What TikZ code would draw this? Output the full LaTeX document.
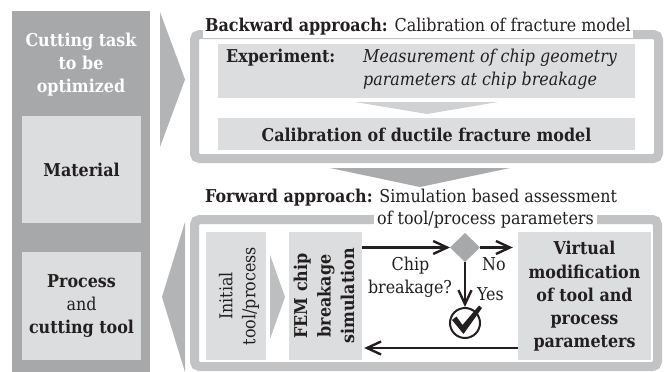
\documentclass[tikz,border=0pt]{standalone}
\usepackage{fontspec}
\setmainfont{DejaVu Serif Condensed}
\usetikzlibrary{arrows.meta}
\definecolor{darkg}{HTML}{A7A8AA}
\definecolor{lightg}{HTML}{DCDDDE}
\definecolor{bandg}{HTML}{C2C3C5}
\definecolor{chevA}{HTML}{B3B4B6}
\definecolor{chevB}{HTML}{AAABAD}
\definecolor{chevC}{HTML}{D0D1D2}
\definecolor{chevD}{HTML}{BDBEC0}
\definecolor{txt}{HTML}{231F20}
\tikzset{
  lbox/.style={fill=lightg, inner sep=0pt},
  frame/.style={draw=bandg, line width=9pt, rounded corners=5pt, inner sep=0pt},
  lbl/.style={text=txt, inner sep=0pt},
  conn/.style={draw=txt, line width=2.6pt, -{Straight Barb[length=14pt,width=13pt,line width=2.4pt]}},
}
\begin{document}
\begin{tikzpicture}[x=1pt,y=-1pt,font=\fontsize{17.7}{23}\selectfont]
\useasboundingbox (0,0) rectangle (667,372);
\fill[white] (0,0) rectangle (667,372);
% left column
\node[fill=darkg, inner sep=0pt, minimum width=138pt, minimum height=361pt] (col) at (81,191.5) {};
\node[lbl, text=white, align=center, font=\fontsize{17.7}{23}\selectfont\bfseries] (task) at (81,65) {Cutting task\\to be\\optimized};
\node[lbox, minimum width=119pt, minimum height=107pt] (mat) at (81.5,169.5) {};
\node[lbl, anchor=base, font=\fontsize{17.7}{23}\selectfont\bfseries] (matt) at (81.5,176.5) {Material};
\node[lbox, minimum width=119pt, minimum height=108pt] (proc) at (81.5,306) {};
\node[lbl, align=center] (proct) at (81.5,306) {\textbf{Process}\\and\\\textbf{cutting tool}};
% chevrons
\fill[chevA] (160,12) -- (185,79.5) -- (160,147) -- cycle;
\fill[chevA] (185,222) -- (162,297) -- (185,372) -- cycle;
\fill[chevB] (330,168) -- (510,168) -- (420,187) -- cycle;
% upper frame
\node[frame, minimum width=464pt, minimum height=124pt] (upf) at (426.5,96.5) {};
\node[lbl, anchor=base west, fill=white, inner xsep=2pt, inner ysep=3pt] (bt) at (203,31) {\textbf{Backward approach:} Calibration of fracture model};
\node[lbox, minimum width=417pt, minimum height=54pt] (exp) at (426.5,71) {};
\node[lbl, anchor=base west, font=\fontsize{17.7}{23}\selectfont\bfseries] (expt) at (226,62) {Experiment:};
\node[lbl, anchor=base west, font=\fontsize{17.7}{23}\selectfont\itshape] (meas1) at (363,62) {Measurement of chip geometry};
\node[lbl, anchor=base west, font=\fontsize{17.7}{23}\selectfont\itshape] (meas2) at (363,85) {parameters at chip breakage};
\fill[chevC] (355,102) -- (498,102) -- (427,114) -- cycle;
\node[lbox, minimum width=417pt, minimum height=32pt] (cal) at (426.5,134) {};
\node[lbl, anchor=base, font=\fontsize{17.7}{23}\selectfont\bfseries] (calt) at (426.5,141.5) {Calibration of ductile fracture model};
% lower frame
\node[frame, minimum width=463pt, minimum height=147pt] (lowf) at (426,293) {};
\node[lbl, anchor=base west] (ft) at (205,202.5) {\textbf{Forward approach:} Simulation based assessment};
\node[lbl, anchor=base west, fill=white, inner xsep=3pt, inner ysep=4pt] (ft2) at (374,224) {of tool/process parameters};
\node[lbox, minimum width=60pt, minimum height=128pt] (init) at (236,296) {};
\node[lbl, rotate=90, align=center] (initt) at (239,296) {Initial\\tool/process};
\fill[chevD] (270,255) -- (285,297) -- (270,339) -- cycle;
\node[lbox, minimum width=73pt, minimum height=128pt] (fem) at (325.5,296) {};
\node[lbl, rotate=90, align=center, font=\fontsize{17.7}{23.5}\selectfont\bfseries] (femt) at (324,296) {FEM chip\\breakage\\simulation};
\node[lbox, minimum width=133pt, minimum height=128pt] (virt) at (584.5,296) {};
\node[lbl, align=center, font=\fontsize{17.7}{23.3}\selectfont\bfseries] (virtt) at (584.5,296.5) {Virtual\\modification\\of tool and\\process\\parameters};
% decision
\fill[darkg] (450,247.5) -- (465,233) -- (480,247.5) -- (465,262) -- cycle;
\coordinate (dl) at (450,247.5);
\coordinate (dr) at (480,247.5);
\coordinate (db) at (465,262);
\node[draw=txt, line width=2pt, circle, minimum size=30pt, inner sep=0pt] (ok) at (465,323) {};
\fill[txt] (452,320) -- (456.5,316.5) -- (462.5,325) -- (479,305.5) -- (482,308) -- (463.5,334) -- cycle;
\coordinate (femr) at (fem.east |- dl);
\coordinate (virtl) at (virt.west |- dr);
\coordinate (virtb) at (virt.west |- 0,348);
\coordinate (femb) at (fem.east |- 0,348);
\draw[conn] (femr) -- (dl);
\draw[conn] (dr) -- ([xshift=-5pt]virtl);
\draw[conn] (db) -- (ok.north);
\draw[conn] (virtb) -- ([xshift=2pt]femb);
\node[lbl, anchor=base] (chip) at (410.5,270.5) {Chip};
\node[lbl, anchor=base] (brk) at (410,293) {breakage?};
\node[lbl, anchor=base] (no) at (494,270.5) {No};
\node[lbl, anchor=base] (yes) at (490.5,300) {Yes};
\end{tikzpicture}
\end{document}
